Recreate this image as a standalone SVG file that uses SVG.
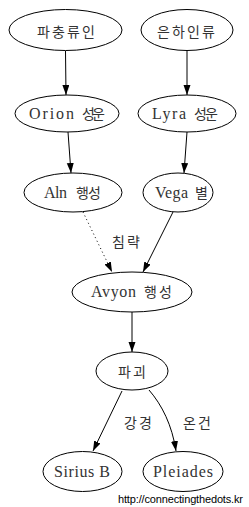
<svg xmlns="http://www.w3.org/2000/svg" width="249" height="507" viewBox="0 0 249 507">
<style>
.n ellipse{fill:#fff;stroke:#000;stroke-width:1}
.t{font-family:"Liberation Serif","Noto Sans CJK KR",serif;font-size:16px;fill:#333}
.k{font-family:"Noto Sans CJK KR","Liberation Serif",sans-serif;font-size:14px;fill:#333}
.e{fill:none;stroke:#000;stroke-width:1}
.foot{font-family:"Liberation Sans",Arial,sans-serif;font-size:11px;fill:#000}
</style>
<defs>
<marker id="ah" markerUnits="userSpaceOnUse" markerWidth="10" markerHeight="8" refX="10" refY="3.5" orient="auto">
<path d="M0,0 L10,3.5 L0,7 z" fill="#000"/>
</marker>
</defs>
<rect width="249" height="507" fill="#fff"/>
<g id="edges">
<path class="e" d="M65.5,51 L66,95" marker-end="url(#ah)"/>
<path class="e" d="M187,51 L187,95" marker-end="url(#ah)"/>
<path class="e" d="M68,132 L71,173" marker-end="url(#ah)"/>
<path class="e" d="M187,132 L184,173" marker-end="url(#ah)"/>
<path class="e" d="M83,212 L112,272" stroke-dasharray="1,3" marker-end="url(#ah)"/>
<path class="e" d="M173,212 L143,272" marker-end="url(#ah)"/>
<path class="e" d="M132,312 L132,352" marker-end="url(#ah)"/>
<path class="e" d="M122,391 L93,451" marker-end="url(#ah)"/>
<path class="e" d="M149,390 C162,405 172,425 176,451" marker-end="url(#ah)"/>
<text class="k" x="112" y="247" textLength="28">침략</text>
<text class="k" x="124" y="428" textLength="28">강경</text>
<text class="k" x="183" y="428" textLength="28">온건</text>
</g>
<g id="n1" class="n"><ellipse cx="65.5" cy="30" rx="56.5" ry="20.5"/><text class="k" x="37" y="37" textLength="58">파충류인</text></g>
<g id="n2" class="n"><ellipse cx="187" cy="30" rx="46" ry="20.5"/><text class="k" x="157" y="37" textLength="58">은하인류</text></g>
<g id="n3" class="n"><ellipse cx="67" cy="113.5" rx="52" ry="18.5"/><text class="t" y="118.5"><tspan x="29" textLength="45">Orion</tspan><tspan class="k" x="82" textLength="23">성운</tspan></text></g>
<g id="n4" class="n"><ellipse cx="187" cy="113.5" rx="49" ry="18.5"/><text class="t" y="118.5"><tspan x="152" textLength="34">Lyra</tspan><tspan class="k" x="194" textLength="24">성운</tspan></text></g>
<g id="n5" class="n"><ellipse cx="73" cy="192.5" rx="49" ry="19.5"/><text class="t" y="197.5"><tspan x="44" textLength="23">Aln</tspan><tspan class="k" x="76" textLength="25">행성</tspan></text></g>
<g id="n6" class="n"><ellipse cx="178" cy="192.5" rx="35" ry="19.5"/><text class="t" y="197.5"><tspan x="155" textLength="33">Vega</tspan><tspan class="k" x="195">별</tspan></text></g>
<g id="n7" class="n"><ellipse cx="132" cy="292" rx="60" ry="20"/><text class="t" y="297"><tspan x="91" textLength="45">Avyon</tspan><tspan class="k" x="144" textLength="28">행성</tspan></text></g>
<g id="n8" class="n"><ellipse cx="132" cy="371" rx="36" ry="19"/><text class="k" x="118" y="377" textLength="28">파괴</text></g>
<g id="n9" class="n"><ellipse cx="82.5" cy="471.5" rx="39.5" ry="20"/><text class="t" x="54" y="477" textLength="56">Sirius B</text></g>
<g id="n10" class="n"><ellipse cx="183" cy="471.5" rx="40" ry="20"/><text class="t" x="153" y="477" textLength="60">Pleiades</text></g>
<text class="foot" x="118" y="503" textLength="125">http://connectingthedots.kr</text>
</svg>
